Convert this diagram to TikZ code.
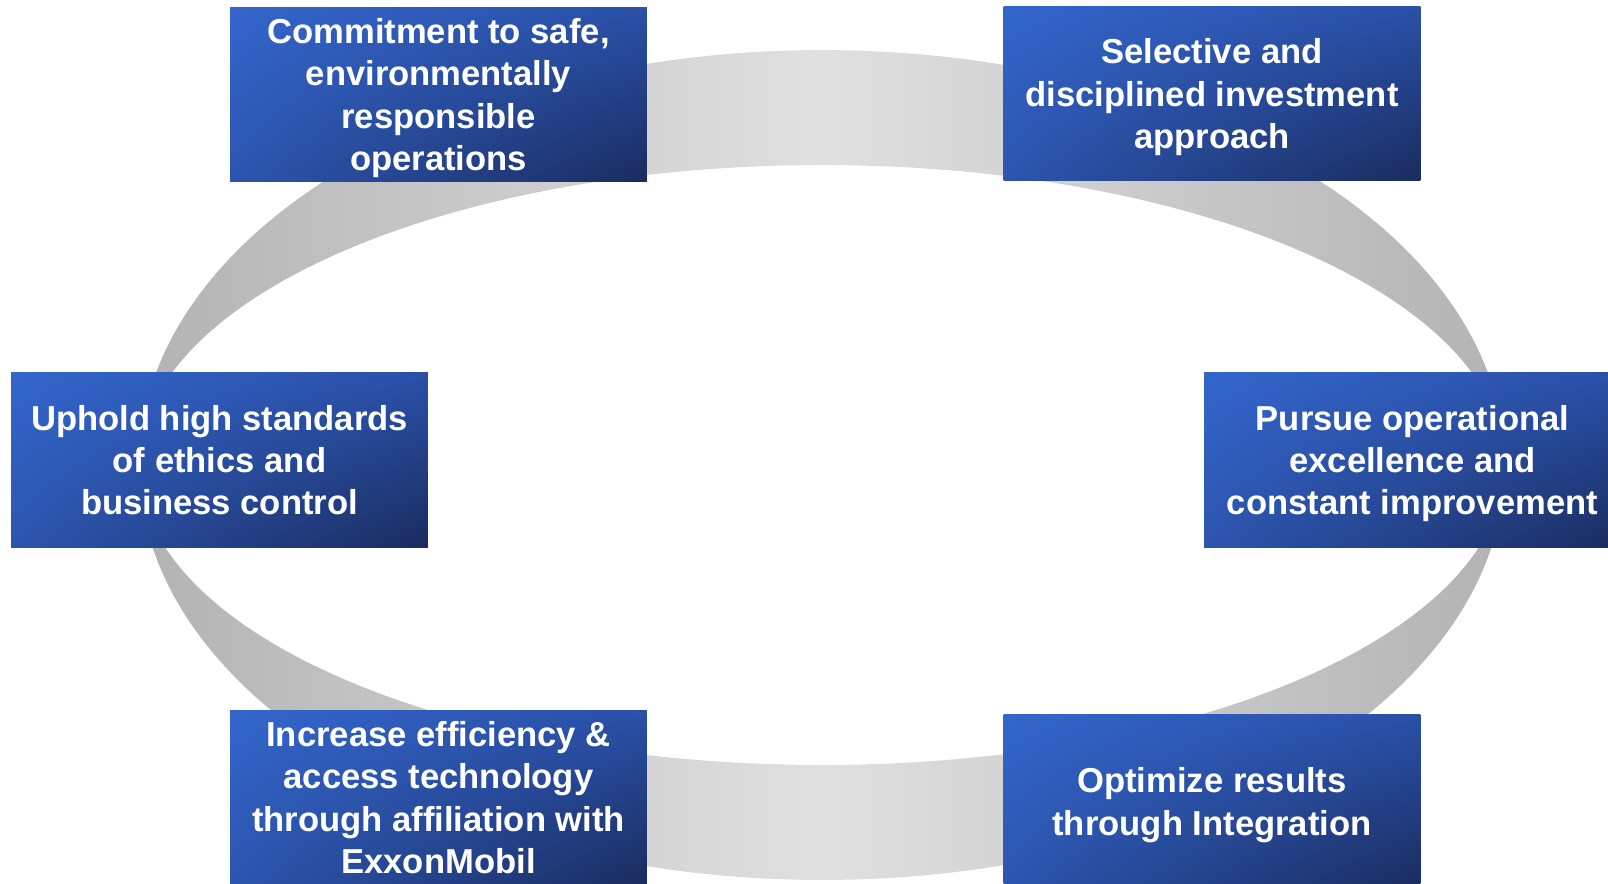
\documentclass[tikz,border=0pt]{standalone}
\usepackage{fontspec}
\setmainfont{Liberation Sans}
\usetikzlibrary{shadings}

\definecolor{boxtl}{HTML}{3366CC}
\definecolor{boxtr}{HTML}{2A50A8}
\definecolor{boxbl}{HTML}{2C55AE}
\definecolor{boxbr}{HTML}{1A2C5E}
\definecolor{ringedge}{HTML}{B3B3B3}
\definecolor{ringmid}{HTML}{E0E0E0}

\begin{document}
\begin{tikzpicture}[
		x=0.02cm, y=-0.02cm,
		ring/.style={left color=ringedge, right color=ringedge, middle color=ringmid, even odd rule},
		goal/.style={rectangle, minimum width=8.34cm, minimum height=3.5cm, inner sep=0pt,
			upper left=boxtl, upper right=boxtr, lower left=boxbl, lower right=boxbr,
			text=white, align=center, text depth=0pt,
			font=\fontsize{19.7}{24}\selectfont\bfseries},
	]
		\useasboundingbox (0,0) rectangle (1608,883);
		\clip (0,0) rectangle (1608,883);
		
		\shade[ring] (822,465) ellipse [x radius=13.66cm, y radius=8.3cm]
			(822,465) ellipse [x radius=13.66cm, y radius=6cm];
		
		\node[goal] (safe) at (438.5,94.5) {Commitment to safe,\\environmentally\\responsible\\operations};
		\node[goal] (invest) at (1212,93.5) {Selective and\\disciplined investment\\approach};
		\node[goal] (ethics) at (219.5,460) {Uphold high standards\\of ethics and\\business control};
		\node[goal] (excel) at (1412.5,460) {Pursue operational\\excellence and\\constant improvement};
		\node[goal] (affil) at (438.5,797.5) {Increase efficiency \&\\access technology\\through affiliation with\\ExxonMobil};
		\node[goal] (integ) at (1212,801.5) {Optimize results\\through Integration};
	\end{tikzpicture}
\end{document}
